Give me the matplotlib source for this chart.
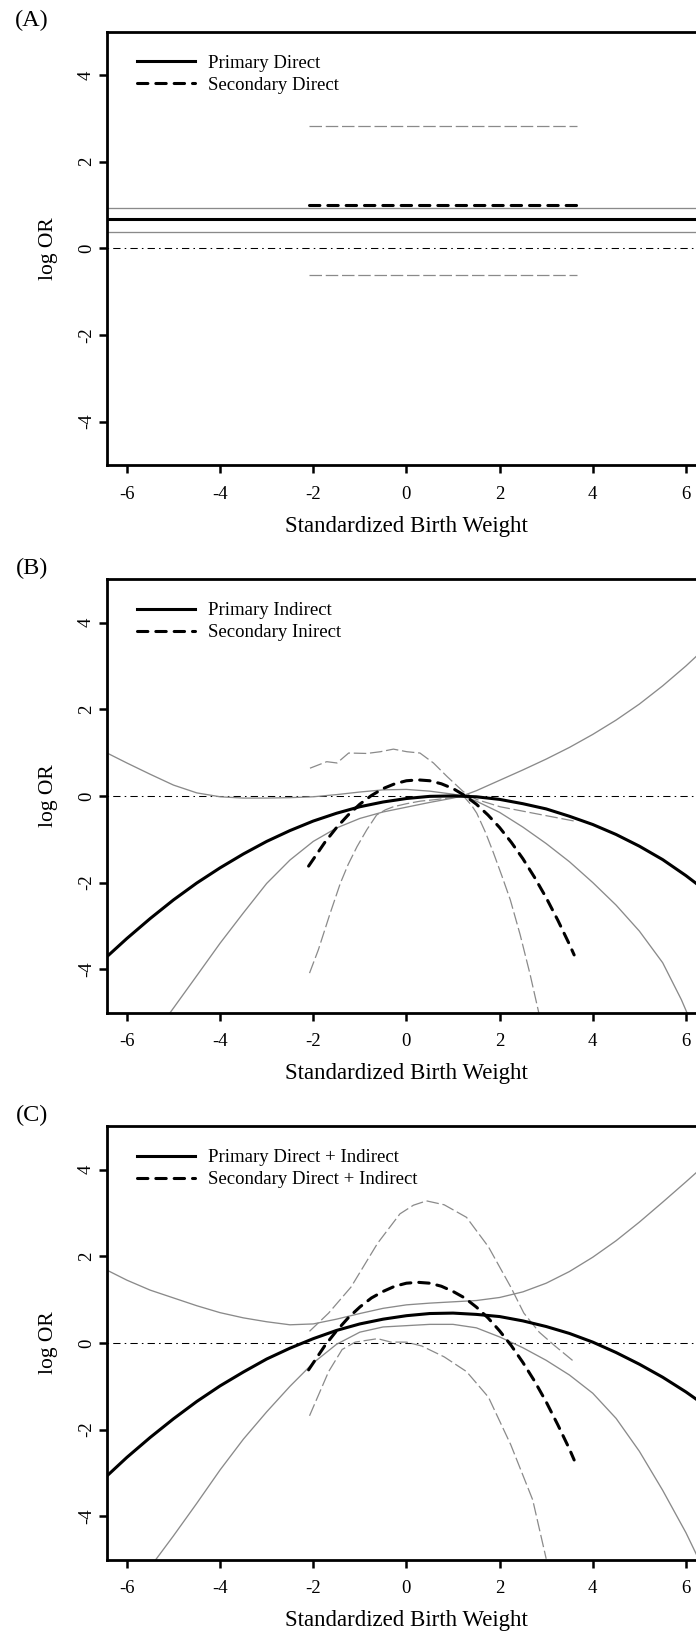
import matplotlib
matplotlib.use('Agg')
import matplotlib.pyplot as plt

plt.rcParams['font.family'] = ['Liberation Serif', 'DejaVu Serif']
plt.rcParams['axes.unicode_minus'] = False

# ---- data (x = standardized birth weight, y = log OR) ----

# (A) direct effects: flat lines
a_prim_x = [-6.6, 6.6]
a_prim_est = [0.68, 0.68]
a_prim_lo = [0.38, 0.38]
a_prim_hi = [0.94, 0.94]
a_sec_x = [-2.10, 3.66]
a_sec_est = [1.00, 1.00]
a_sec_lo = [-0.62, -0.62]
a_sec_hi = [2.83, 2.83]

# (B) indirect effects
b_prim_x = [-6.5, -6, -5.5, -5, -4.5, -4, -3.5, -3, -2.5, -2, -1.5, -1, -0.5, 0,
            0.5, 1, 1.5, 2, 2.5, 3, 3.5, 4, 4.5, 5, 5.5, 6, 6.5]
b_prim_est = [-3.78, -3.29, -2.83, -2.40, -2.01, -1.66, -1.34, -1.05, -0.80, -0.58,
              -0.40, -0.25, -0.14, -0.06, -0.01, 0.00, -0.02, -0.08, -0.18, -0.30,
              -0.47, -0.66, -0.89, -1.16, -1.47, -1.84, -2.25]
b_prim_hi_x = [-6.5, -6, -5.5, -5, -4.5, -4, -3.5, -3, -2.5, -2, -1.5, -1, -0.5, 0,
               0.5, 1, 1.2, 1.5, 2, 2.5, 3, 3.5, 4, 4.5, 5, 5.5, 6, 6.5]
b_prim_hi = [1.03, 0.76, 0.50, 0.25, 0.07, -0.02, -0.05, -0.05, -0.04, -0.02, 0.03,
             0.09, 0.14, 0.15, 0.11, 0.04, 0.00, 0.12, 0.36, 0.60, 0.85, 1.12, 1.42,
             1.75, 2.12, 2.54, 3.00, 3.50]
b_prim_lo_x = [-5.2, -5.07, -4.5, -4, -3.5, -3, -2.5, -2, -1.5, -1, -0.5, 0, 0.5, 1,
               1.2, 1.5, 2, 2.5, 3, 3.5, 4, 4.5, 5, 5.5, 5.9, 6.1]
b_prim_lo = [-5.2, -5.0, -4.15, -3.40, -2.70, -2.02, -1.48, -1.05, -0.74, -0.52, -0.37,
             -0.26, -0.15, -0.05, 0.00, -0.12, -0.38, -0.72, -1.10, -1.52, -2.00,
             -2.52, -3.12, -3.85, -4.70, -5.20]
b_sec_x = [-2.1, -1.75, -1.5, -1.25, -1, -0.75, -0.5, -0.25, 0, 0.25, 0.5, 0.75, 1,
           1.25, 1.5, 1.75, 2, 2.25, 2.5, 2.75, 3, 3.25, 3.5, 3.6]
b_sec_est = [-1.62, -1.07, -0.73, -0.44, -0.19, 0.01, 0.17, 0.28, 0.35, 0.37, 0.35,
             0.28, 0.17, 0.01, -0.19, -0.44, -0.73, -1.07, -1.45, -1.88, -2.35,
             -2.87, -3.43, -3.67]
b_sec_hi_x = [-2.07, -1.71, -1.49, -1.24, -0.85, -0.56, -0.28, 0.01, 0.29, 0.58,
              0.87, 1.22, 1.5, 2.01, 2.73, 3.65]
b_sec_hi = [0.64, 0.79, 0.76, 0.99, 0.98, 1.02, 1.08, 1.02, 0.99, 0.76, 0.45, 0.10,
            -0.08, -0.25, -0.40, -0.59]
b_sec_lo_x = [-2.08, -1.89, -1.65, -1.42, -1.25, -1.06, -0.85, -0.64, -0.45, -0.28, 0,
              0.3, 0.58, 0.9, 1.22, 1.4, 1.51, 1.7, 1.87, 2.05, 2.23, 2.44, 2.65, 2.84]
b_sec_lo = [-4.09, -3.55, -2.75, -2.02, -1.58, -1.17, -0.78, -0.44, -0.32, -0.25,
            -0.18, -0.12, -0.09, -0.05, 0.00, -0.22, -0.40, -0.85, -1.32, -1.85,
            -2.40, -3.20, -4.10, -5.00]

# (C) direct + indirect
c_prim_x = b_prim_x
c_prim_est = [-3.14, -2.64, -2.18, -1.75, -1.35, -0.99, -0.67, -0.37, -0.12, 0.10,
              0.29, 0.44, 0.55, 0.63, 0.68, 0.69, 0.66, 0.61, 0.51, 0.38, 0.22, 0.02,
              -0.22, -0.49, -0.79, -1.13, -1.51]
c_prim_hi = [1.72, 1.45, 1.22, 1.04, 0.86, 0.70, 0.58, 0.49, 0.42, 0.44, 0.55, 0.68,
             0.80, 0.88, 0.92, 0.95, 0.98, 1.05, 1.18, 1.38, 1.65, 1.98, 2.36, 2.79,
             3.25, 3.72, 4.20]
c_prim_lo_x = [-5.5, -5.38, -5, -4.5, -4, -3.5, -3, -2.5, -2, -1.5, -1, -0.5, 0, 0.5,
               1, 1.5, 2, 2.5, 3, 3.5, 4, 4.5, 5, 5.5, 6, 6.3]
c_prim_lo = [-5.2, -5.0, -4.45, -3.70, -2.93, -2.22, -1.59, -1.00, -0.46, -0.03, 0.25,
             0.37, 0.40, 0.43, 0.43, 0.35, 0.14, -0.11, -0.40, -0.74, -1.16, -1.74,
             -2.50, -3.40, -4.38, -5.05]
c_sec_x = b_sec_x
c_sec_est = [-0.62, -0.06, 0.28, 0.58, 0.83, 1.04, 1.19, 1.31, 1.38, 1.40, 1.38, 1.31,
             1.19, 1.04, 0.83, 0.58, 0.28, -0.06, -0.45, -0.88, -1.36, -1.89, -2.45,
             -2.70]
c_sec_hi_x = [-2.08, -1.67, -1.19, -0.62, -0.14, 0.15, 0.43, 0.81, 1.29, 1.76, 2.24,
              2.52, 2.85, 3.19, 3.62]
c_sec_hi = [0.27, 0.69, 1.29, 2.30, 2.98, 3.18, 3.28, 3.19, 2.90, 2.22, 1.29, 0.69,
            0.25, -0.07, -0.45]
c_sec_lo_x = [-2.08, -1.67, -1.38, -1.10, -0.62, -0.33, 0, 0.33, 0.81, 1.29, 1.76,
              2.24, 2.71, 3.0]
c_sec_lo = [-1.68, -0.66, -0.15, 0.02, 0.10, 0.02, 0.02, -0.07, -0.32, -0.66, -1.25,
            -2.35, -3.62, -4.98]

x_ticks = [-6, -4, -2, 0, 2, 4, 6]
y_ticks = [-4, -2, 0, 2, 4]

grey = '#8a8a8a'
thick_dash = (0, (3.4, 2.6))
thin_dash = (0, (10, 3))
zero_dash = (0, (1.5, 4, 7, 4))


def style_axes(ax, tag):
    ax.set_xlim(-6.42, 6.42)
    ax.set_ylim(-5, 5)
    ax.set_xticks(x_ticks)
    ax.set_yticks(y_ticks)
    for s in ax.spines.values():
        s.set_linewidth(2.0)
    ax.tick_params(axis='both', direction='out', length=5.5, width=1.8,
                   labelsize=13.5, top=False, right=False)
    ax.tick_params(axis='x', pad=9.5)
    ax.tick_params(axis='y', pad=3.5)
    plt.setp(ax.get_yticklabels(), rotation=90, va='center')
    ax.set_xlabel('Standardized Birth Weight', fontsize=16.5, va='center')
    ax.xaxis.set_label_coords(0.5, -0.141)
    ax.set_ylabel('log OR', fontsize=15.5, va='center')
    ax.yaxis.set_label_coords(-0.099, 0.5)
    ax.axhline(0, color='black', lw=0.75, ls=zero_dash, zorder=1)
    ax.text(-0.126, 1.025, tag, transform=ax.transAxes, fontsize=17.5,
            ha='center', va='center')


def add_legend(ax, h1, h2):
    ax.legend(handles=[h1, h2], loc='upper left', bbox_to_anchor=(0.049, 0.947),
              frameon=False, fontsize=13.5, handlelength=3.1, handletextpad=0.72,
              labelspacing=0.25, borderpad=0, borderaxespad=0)


fig = plt.figure(figsize=(6.96, 16.35), dpi=100)
left, width, height = 0.1542, 0.8595, 0.2650

# panel A
ax = fig.add_axes([left, 0.7156, width, height])
style_axes(ax, '(A)')
ax.plot(a_prim_x, a_prim_lo, color=grey, lw=0.95)
ax.plot(a_prim_x, a_prim_hi, color=grey, lw=0.95)
ax.plot(a_sec_x, a_sec_lo, color=grey, lw=0.9, ls=thin_dash)
ax.plot(a_sec_x, a_sec_hi, color=grey, lw=0.9, ls=thin_dash)
h1, = ax.plot(a_prim_x, a_prim_est, color='black', lw=2.2, label='Primary Direct')
h2, = ax.plot(a_sec_x, a_sec_est, color='black', lw=2.2, ls=thick_dash,
              dash_capstyle='round', label='Secondary Direct')
add_legend(ax, h1, h2)

# panel B
ax = fig.add_axes([left, 0.3807, width, height])
style_axes(ax, '(B)')
ax.plot(b_prim_hi_x, b_prim_hi, color=grey, lw=0.95)
ax.plot(b_prim_lo_x, b_prim_lo, color=grey, lw=0.95)
ax.plot(b_sec_hi_x, b_sec_hi, color=grey, lw=0.9, ls=thin_dash)
ax.plot(b_sec_lo_x, b_sec_lo, color=grey, lw=0.9, ls=thin_dash)
h1, = ax.plot(b_prim_x, b_prim_est, color='black', lw=2.2, label='Primary Indirect')
h2, = ax.plot(b_sec_x, b_sec_est, color='black', lw=2.2, ls=thick_dash,
              dash_capstyle='round', label='Secondary Inirect')
add_legend(ax, h1, h2)

# panel C
ax = fig.add_axes([left, 0.0461, width, height])
style_axes(ax, '(C)')
ax.plot(c_prim_x, c_prim_hi, color=grey, lw=0.95)
ax.plot(c_prim_lo_x, c_prim_lo, color=grey, lw=0.95)
ax.plot(c_sec_hi_x, c_sec_hi, color=grey, lw=0.9, ls=thin_dash)
ax.plot(c_sec_lo_x, c_sec_lo, color=grey, lw=0.9, ls=thin_dash)
h1, = ax.plot(c_prim_x, c_prim_est, color='black', lw=2.2,
              label='Primary Direct + Indirect')
h2, = ax.plot(c_sec_x, c_sec_est, color='black', lw=2.2, ls=thick_dash,
              dash_capstyle='round', label='Secondary Direct + Indirect')
add_legend(ax, h1, h2)

fig.savefig('out.png', dpi=100)
